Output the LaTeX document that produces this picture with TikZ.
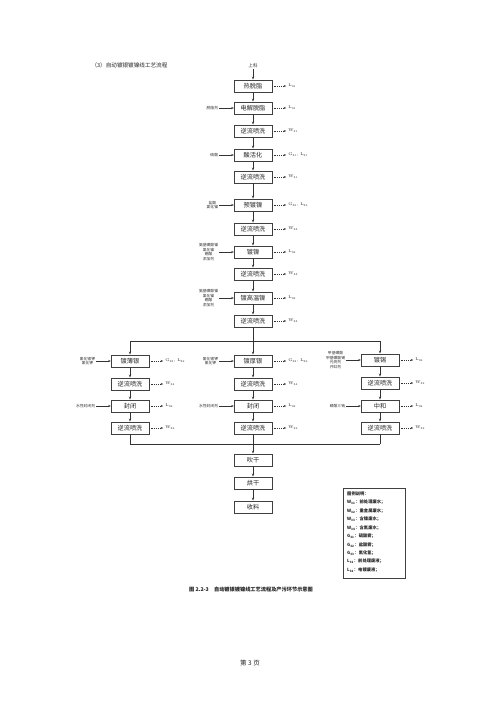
\documentclass[tikz,border=0pt]{standalone}
\usepackage{fontspec}
\newfontfamily\cjk{Noto Sans CJK SC}
\usetikzlibrary{arrows.meta}
\tikzset{
 pbox/.style={draw=black!75, line width=0.45pt, minimum width=38pt, minimum height=12.5pt, inner sep=0pt, font=\cjk\fontsize{6.2}{7}\selectfont, text=black!85},
 inlbl/.style={font=\cjk\fontsize{3.8}{4.7}\selectfont, align=center, inner sep=0.5pt, text=black!80},
 outlbl/.style={font=\fontsize{4}{4.7}\selectfont, anchor=west, inner sep=0.5pt, text=black!85},
 flow/.style={-{Stealth[length=3pt,width=2.2pt]}, line width=0.45pt, draw=black!80},
 plain/.style={line width=0.45pt, draw=black!80},
 outarr/.style={dash pattern=on 1.2pt off 1pt, -{Stealth[length=2.5pt,width=2pt]}, line width=0.4pt, draw=black!80},
 inarr/.style={-{Stealth[length=2.5pt,width=2pt]}, line width=0.4pt, draw=black!80},
 legtxt/.style={font=\cjk\bfseries\fontsize{4.3}{5}\selectfont, anchor=west, inner sep=0pt, text=black!85}
}
\newcommand\outp[2]{%
  \coordinate (#1o) at ([xshift=14pt]#1.east);
  \draw[outarr] (#1.east) -- (#1o);
  \node[outlbl] (#1l) at ([xshift=1.5pt]#1o) {#2};}
\newcommand\inp[2]{%
  \node[inlbl, anchor=east] (#1i) at ([xshift=-15pt]#1.west) {#2};
  \draw[inarr] (#1i) -- (#1.west);}
\newcommand\Ws[2]{#1\textsubscript{#2}}
\begin{document}
\begin{tikzpicture}[x=1pt,y=-1pt]
\useasboundingbox (0,0) rectangle (500,707);
\fill[white] (0,0) rectangle (500,707);
% title
\node[font=\cjk\fontsize{5.6}{6.5}\selectfont, anchor=west, text=black!85] (title) at (88,65) {（3）自动镀银镀镍线工艺流程};
% main column
\node[inlbl, font=\cjk\fontsize{4.6}{5.4}\selectfont] (start) at (253,66) {上料};
\node[pbox] (b1) at (253,86) {热脱脂};
\node[pbox] (b2) at (253,108) {电解脱脂};
\node[pbox] (b3) at (253,131) {逆流喷洗};
\node[pbox] (b4) at (253,155) {酸活化};
\node[pbox] (b5) at (253,177) {逆流喷洗};
\node[pbox] (b6) at (253,205) {预镀镍};
\node[pbox] (b7) at (253,229) {逆流喷洗};
\node[pbox] (b8) at (253,252) {镀镍};
\node[pbox] (b9) at (253,274) {逆流喷洗};
\node[pbox] (b10) at (253,298) {镀高温镍};
\node[pbox] (b11) at (253,321) {逆流喷洗};
\draw[flow] (start) -- (b1);
\foreach \a/\b in {b1/b2,b2/b3,b3/b4,b4/b5,b5/b6,b6/b7,b7/b8,b8/b9,b9/b10,b10/b11}
  \draw[flow] (\a) -- (\b);
\outp{b1}{\Ws{L}{31}}
\outp{b2}{\Ws{L}{31}}
\outp{b3}{\Ws{W}{31}}
\outp{b4}{\Ws{G}{31}, \Ws{L}{31}}
\outp{b5}{\Ws{W}{31}}
\outp{b6}{\Ws{G}{32}, \Ws{L}{32}}
\outp{b7}{\Ws{W}{33}}
\outp{b8}{\Ws{L}{32}}
\outp{b9}{\Ws{W}{33}}
\outp{b10}{\Ws{L}{32}}
\outp{b11}{\Ws{W}{33}}
\inp{b2}{脱脂剂}
\inp{b4}{硫酸}
\inp{b6}{盐酸\\氯化镍}
\inp{b8}{氨基磺酸镍\\氯化镍\\硼酸\\添加剂}
\inp{b10}{氨基磺酸镍\\氯化镍\\硼酸\\添加剂}
% split
\coordinate (sp) at (253,341);
\coordinate (spL) at (130,341);
\coordinate (spR) at (380,341);
\draw[plain] (b11) -- (sp);
\draw[plain] (spL) -- (spR);
% left branch
\node[pbox] (l1) at (130,361) {镀薄银};
\node[pbox] (l2) at (130,384) {逆流喷洗};
\node[pbox] (l3) at (130,406) {封闭};
\node[pbox] (l4) at (130,428) {逆流喷洗};
% middle branch
\node[pbox] (m1) at (253,361) {镀厚银};
\node[pbox] (m2) at (253,384) {逆流喷洗};
\node[pbox] (m3) at (253,406) {封闭};
\node[pbox] (m4) at (253,428) {逆流喷洗};
% right branch
\node[pbox] (r1) at (380,360) {镀锡};
\node[pbox] (r2) at (380,383) {逆流喷洗};
\node[pbox] (r3) at (380,406) {中和};
\node[pbox] (r4) at (380,428) {逆流喷洗};
\draw[flow] (spL) -- (l1);
\draw[flow] (sp) -- (m1);
\draw[flow] (spR) -- (r1);
\foreach \a/\b in {l1/l2,l2/l3,l3/l4,m1/m2,m2/m3,m3/m4,r1/r2,r2/r3,r3/r4}
  \draw[flow] (\a) -- (\b);
\outp{l1}{\Ws{G}{33}, \Ws{L}{32}}
\outp{l2}{\Ws{W}{34}}
\outp{l3}{\Ws{L}{32}}
\outp{l4}{\Ws{W}{32}}
\outp{m1}{\Ws{G}{33}, \Ws{L}{32}}
\outp{m2}{\Ws{W}{34}}
\outp{m3}{\Ws{L}{32}}
\outp{m4}{\Ws{W}{32}}
\outp{r1}{\Ws{L}{32}}
\outp{r2}{\Ws{W}{32}}
\outp{r3}{\Ws{L}{32}}
\outp{r4}{\Ws{W}{32}}
\inp{l1}{氰化银钾\\氰化钾}
\inp{l3}{水性封闭剂}
\inp{m1}{氰化银钾\\氰化钾}
\inp{m3}{水性封闭剂}
\inp{r1}{甲基磺酸\\甲基磺酸锡\\光亮剂\\开缸剂}
\inp{r3}{磷酸三钠}
% merge
\coordinate (mg) at (253,444);
\coordinate (mgL) at (130,444);
\coordinate (mgR) at (380,444);
\draw[plain] (l4) -- (mgL);
\draw[plain] (m4) -- (mg);
\draw[plain] (r4) -- (mgR);
\draw[plain] (mgL) -- (mgR);
\node[pbox] (d1) at (253,460) {吹干};
\node[pbox] (d2) at (253,483) {烘干};
\node[pbox] (d3) at (253,507) {收料};
\draw[flow] (mg) -- (d1);
\draw[flow] (d1) -- (d2);
\draw[flow] (d2) -- (d3);
% legend
\node[draw=black!75, line width=0.45pt, minimum width=62pt, minimum height=90pt, inner sep=0pt] (leg) at (374,533) {};
\node[legtxt] (lg0) at (347,494) {图例说明：};
\node[legtxt] (lg1) at (347,502.4) {W\textsubscript{31}：前处理废水；};
\node[legtxt] (lg2) at (347,510.9) {W\textsubscript{32}：重金属废水；};
\node[legtxt] (lg3) at (347,519.3) {W\textsubscript{33}：含镍废水；};
\node[legtxt] (lg4) at (347,527.8) {W\textsubscript{34}：含氰废水；};
\node[legtxt] (lg5) at (347,536.2) {G\textsubscript{31}：硫酸雾；};
\node[legtxt] (lg6) at (347,544.7) {G\textsubscript{32}：盐酸雾；};
\node[legtxt] (lg7) at (347,553.1) {G\textsubscript{33}：氰化氢；};
\node[legtxt] (lg8) at (347,561.6) {L\textsubscript{31}：前处理废液；};
\node[legtxt] (lg9) at (347,570) {L\textsubscript{32}：电镀废液；};
% caption
\node[font=\cjk\bfseries\fontsize{5.2}{6}\selectfont, text=black!85] (cap) at (251,590) {图 2.2-3\quad 自动镀银镀镍线工艺流程及产污环节示意图};
% page number
\node[font=\cjk\fontsize{6.5}{7.5}\selectfont, text=black!85] (pg) at (250,663) {第 3 页};
\end{tikzpicture}
\end{document}
